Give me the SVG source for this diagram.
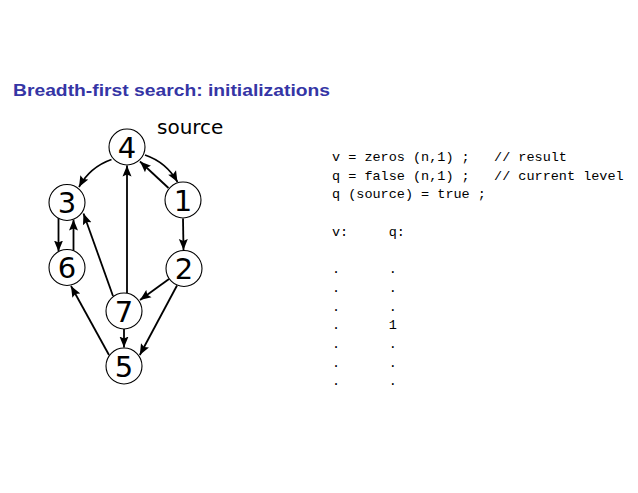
<svg xmlns="http://www.w3.org/2000/svg" width="638" height="493" viewBox="0 0 638 493">
<style>
  .title { font-family: "Liberation Sans", Arial, sans-serif; font-weight: bold; font-size: 16.5px; fill: #3535A5; }
  .node circle { fill: #ffffff; stroke: #000000; stroke-width: 1.1; }
  .node text { font-family: "DejaVu Sans", sans-serif; font-size: 29px; text-anchor: middle; fill: #000000; }
  .label { font-family: "DejaVu Sans", sans-serif; font-size: 20px; fill: #000000; }
  .edge { fill: none; stroke: #000000; stroke-width: 1.8; marker-end: url(#arrow); }
  .code { font-family: "Liberation Mono", "Courier New", monospace; font-size: 13.5px; fill: #000000; white-space: pre; }
</style>
<defs>
  <marker id="arrow" viewBox="0 -5 11 10" refX="11" refY="0" markerWidth="11" markerHeight="10" markerUnits="userSpaceOnUse" orient="auto">
    <path d="M0,-4.5 L11,0 L0,4.5 L2,0 z" fill="#000000"/>
  </marker>
</defs>
<rect x="0" y="0" width="638" height="493" fill="#ffffff"/>
<text class="title" x="13" y="96" textLength="317" lengthAdjust="spacingAndGlyphs">Breadth-first search: initializations</text>

<g id="connectors">
  <path class="edge" d="M111.5,159.5 Q90,167 79,187"/>
  <path class="edge" d="M145,155 Q166.4,162.3 177.5,182"/>
  <path class="edge" d="M168.5,188 L140,161.5"/>
  <path class="edge" d="M183,218.5 L183.5,250"/>
  <path class="edge" d="M58.5,218 L58.5,251.5"/>
  <path class="edge" d="M73.5,250.5 L73.5,219.5"/>
  <path class="edge" d="M127,293.5 L127,165.5"/>
  <path class="edge" d="M113,296 L83.5,213.5"/>
  <path class="edge" d="M124,329 L124,347.5"/>
  <path class="edge" d="M169,279 L140,300"/>
  <path class="edge" d="M177,285.5 L139.8,355"/>
  <path class="edge" d="M109,355 L71,286"/>
</g>

<g id="node-4" class="node"><circle cx="127" cy="147" r="18"/><text x="127" y="157.5">4</text></g>
<g id="node-3" class="node"><circle cx="67" cy="202.5" r="18"/><text x="67" y="213">3</text></g>
<g id="node-1" class="node"><circle cx="183" cy="200" r="18"/><text x="183" y="210.5">1</text></g>
<g id="node-6" class="node"><circle cx="67" cy="267.5" r="18"/><text x="67" y="278">6</text></g>
<g id="node-2" class="node"><circle cx="184" cy="268.5" r="18"/><text x="184" y="279">2</text></g>
<g id="node-7" class="node"><circle cx="124" cy="311" r="18"/><text x="124" y="321.5">7</text></g>
<g id="node-5" class="node"><circle cx="124" cy="366" r="18"/><text x="124" y="376.5">5</text></g>
<text class="label" x="157" y="134">source</text>

<g id="code" xml:space="preserve">
  <text class="code" x="332" y="161">v = zeros (n,1) ;   // result</text>
  <text class="code" x="332" y="179.7">q = false (n,1) ;   // current level</text>
  <text class="code" x="332" y="198.4">q (source) = true ;</text>
  <text class="code" x="332" y="235.8">v:     q:</text>
  <text class="code" x="332" y="273.2">.      .</text>
  <text class="code" x="332" y="291.9">.      .</text>
  <text class="code" x="332" y="310.6">.      .</text>
  <text class="code" x="332" y="329.3">.      1</text>
  <text class="code" x="332" y="348">.      .</text>
  <text class="code" x="332" y="366.7">.      .</text>
  <text class="code" x="332" y="385.4">.      .</text>
</g>
</svg>
